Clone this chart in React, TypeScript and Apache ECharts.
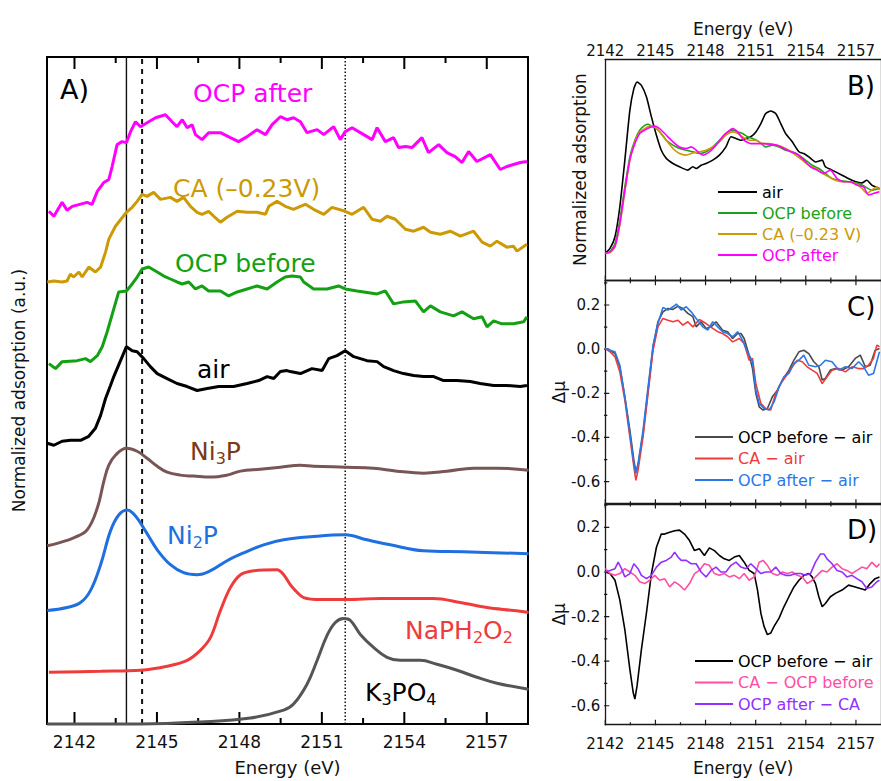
import React, { useEffect, useRef } from 'react';
import * as echarts from 'echarts';

const FONT = "'DejaVu Sans', sans-serif";

// ---- axis tick values ----
const majorE = [2142, 2145, 2148, 2151, 2154, 2157];
const minorE = [2143.5, 2146.5, 2149.5, 2152.5, 2155.5];
const dmuMajor = [-0.6, -0.4, -0.2, 0, 0.2];
const dmuMinor = [-0.5, -0.3, -0.1, 0.1, 0.3];

// ---- Panel A (offset spectra, a.u.) ----
const ocpAfterA = [[2141.07,5.15],[2141.25,5.10],[2141.55,5.24],[2141.73,5.16],[2141.92,5.20],[2142.46,5.24],[2142.64,5.22],[2142.83,5.35],[2143.07,5.44],[2143.25,5.47],[2143.37,5.60],[2143.55,5.82],[2143.73,5.85],[2143.89,5.84],[2144.04,5.95],[2144.22,6.05],[2144.40,6.00],[2144.64,6.04],[2144.95,6.09],[2145.31,6.12],[2145.55,6.05],[2145.73,6.00],[2145.92,6.07],[2146.10,5.99],[2146.28,6.02],[2146.40,5.92],[2146.64,5.87],[2146.88,5.94],[2147.31,5.94],[2147.67,5.89],[2147.97,5.85],[2148.28,5.90],[2148.64,5.97],[2148.95,5.92],[2149.19,6.02],[2149.49,6.10],[2149.73,6.07],[2149.97,6.09],[2150.22,6.05],[2150.46,5.94],[2150.83,5.97],[2151.07,5.92],[2151.43,6.00],[2151.67,5.87],[2151.85,5.95],[2152.10,5.99],[2152.52,5.92],[2152.83,5.87],[2153.01,5.99],[2153.31,5.85],[2153.61,5.89],[2153.79,5.79],[2154.04,5.80],[2154.28,5.79],[2154.64,5.89],[2154.88,5.74],[2155.25,5.82],[2155.55,5.74],[2155.85,5.70],[2156.10,5.64],[2156.34,5.75],[2156.64,5.65],[2157.13,5.72],[2157.49,5.57],[2157.73,5.60],[2158.22,5.64],[2158.46,5.65]];
const caA = [[2141.01,4.44],[2141.25,4.45],[2141.55,4.44],[2141.73,4.45],[2141.85,4.52],[2141.97,4.49],[2142.16,4.54],[2142.28,4.49],[2142.52,4.59],[2142.76,4.54],[2142.95,4.59],[2143.13,4.74],[2143.25,4.87],[2143.49,5.00],[2143.89,5.14],[2144.10,5.19],[2144.28,5.25],[2144.46,5.32],[2144.64,5.30],[2144.88,5.34],[2145.13,5.27],[2145.49,5.29],[2145.73,5.25],[2145.97,5.29],[2146.22,5.20],[2146.46,5.14],[2146.64,5.12],[2146.88,5.15],[2147.07,5.10],[2147.31,5.04],[2147.55,5.09],[2147.92,5.15],[2148.28,5.14],[2148.64,5.14],[2148.95,5.12],[2149.07,5.20],[2149.37,5.25],[2149.67,5.20],[2149.97,5.17],[2150.22,5.20],[2150.40,5.22],[2150.70,5.17],[2151.07,5.12],[2151.37,5.19],[2151.85,5.15],[2152.10,5.12],[2152.52,5.19],[2152.83,5.07],[2153.13,5.05],[2153.37,5.10],[2153.67,5.07],[2154.04,4.97],[2154.34,4.95],[2154.70,4.99],[2154.95,4.94],[2155.31,4.92],[2155.67,4.95],[2156.04,4.90],[2156.52,4.95],[2156.83,4.84],[2157.13,4.80],[2157.37,4.85],[2157.73,4.79],[2157.97,4.80],[2158.10,4.75],[2158.46,4.82]];
const ocpBeforeA = [[2141.07,3.62],[2141.31,3.57],[2141.55,3.64],[2142.10,3.65],[2142.40,3.67],[2142.58,3.64],[2142.83,3.70],[2143.01,3.79],[2143.19,3.94],[2143.43,4.17],[2143.61,4.34],[2143.89,4.35],[2144.10,4.42],[2144.28,4.49],[2144.46,4.57],[2144.70,4.59],[2145.01,4.54],[2145.25,4.50],[2145.49,4.47],[2145.73,4.44],[2145.92,4.42],[2146.16,4.44],[2146.40,4.37],[2146.64,4.40],[2146.88,4.35],[2147.31,4.35],[2147.61,4.30],[2147.92,4.34],[2148.28,4.37],[2148.64,4.40],[2149.01,4.37],[2149.37,4.44],[2149.67,4.49],[2149.92,4.50],[2150.22,4.49],[2150.34,4.44],[2150.70,4.37],[2151.19,4.37],[2151.61,4.40],[2151.85,4.37],[2152.28,4.35],[2153.01,4.32],[2153.31,4.35],[2153.61,4.22],[2153.97,4.24],[2154.40,4.25],[2154.70,4.14],[2154.95,4.20],[2155.31,4.14],[2155.79,4.10],[2156.10,4.14],[2156.52,4.07],[2156.83,4.09],[2157.01,3.99],[2157.25,4.05],[2157.55,4.02],[2157.97,4.02],[2158.34,4.04],[2158.46,4.09]];
const airA = [[2141.01,2.82],[2141.25,2.80],[2141.55,2.84],[2141.85,2.85],[2142.22,2.85],[2142.52,2.89],[2142.76,2.97],[2142.95,3.10],[2143.13,3.27],[2143.31,3.40],[2143.43,3.49],[2143.89,3.79],[2144.10,3.75],[2144.28,3.74],[2144.52,3.67],[2144.76,3.59],[2145.01,3.52],[2145.37,3.47],[2145.73,3.42],[2146.10,3.39],[2146.46,3.35],[2146.83,3.37],[2147.25,3.39],[2147.79,3.39],[2148.28,3.42],[2148.70,3.45],[2149.01,3.49],[2149.25,3.47],[2149.49,3.54],[2149.73,3.55],[2149.85,3.54],[2150.22,3.52],[2150.64,3.57],[2151.01,3.55],[2151.25,3.67],[2151.55,3.70],[2151.85,3.75],[2152.16,3.69],[2152.64,3.65],[2153.01,3.64],[2153.25,3.59],[2153.61,3.55],[2153.97,3.52],[2154.34,3.50],[2154.70,3.49],[2155.07,3.49],[2155.43,3.45],[2155.92,3.45],[2156.40,3.44],[2156.76,3.42],[2157.25,3.40],[2157.73,3.40],[2158.22,3.39],[2158.46,3.40]];
const ni3pA = [[2141.01,1.79],[2141.43,1.82],[2141.97,1.87],[2142.46,1.95],[2142.83,2.17],[2143.07,2.44],[2143.25,2.60],[2143.49,2.70],[2143.89,2.77],[2144.28,2.74],[2144.64,2.67],[2145.01,2.59],[2145.37,2.53],[2145.85,2.50],[2146.34,2.49],[2146.95,2.48],[2147.55,2.50],[2148.04,2.54],[2148.76,2.56],[2149.49,2.58],[2150.22,2.60],[2150.70,2.59],[2151.85,2.58],[2152.88,2.57],[2153.73,2.54],[2154.70,2.52],[2155.55,2.54],[2156.52,2.57],[2157.37,2.57],[2158.52,2.55]];
const ni2pA = [[2141.01,1.14],[2141.73,1.17],[2142.22,1.22],[2142.58,1.34],[2142.95,1.60],[2143.31,1.94],[2143.61,2.10],[2143.92,2.15],[2144.22,2.09],[2144.58,1.94],[2145.01,1.75],[2145.49,1.60],[2145.97,1.52],[2146.46,1.50],[2146.95,1.54],[2147.55,1.64],[2148.16,1.72],[2148.88,1.80],[2149.61,1.85],[2150.58,1.88],[2151.85,1.90],[2152.64,1.85],[2153.49,1.80],[2154.70,1.74],[2156.16,1.73],[2158.52,1.71]];
const naph2o2A = [[2141.07,0.52],[2142.95,0.53],[2144.40,0.54],[2145.37,0.58],[2146.10,0.64],[2146.58,0.74],[2146.95,0.87],[2147.31,1.14],[2147.67,1.37],[2148.04,1.50],[2148.52,1.54],[2149.37,1.55],[2149.61,1.50],[2149.85,1.40],[2150.04,1.34],[2150.34,1.27],[2150.95,1.25],[2151.92,1.25],[2153.13,1.26],[2155.07,1.26],[2156.04,1.22],[2157.01,1.17],[2157.97,1.14],[2158.52,1.12]];
const k3po4A = [[2141.01,0.00],[2144.40,0.00],[2146.58,0.02],[2148.40,0.06],[2149.61,0.14],[2149.97,0.20],[2150.46,0.40],[2150.83,0.64],[2151.19,0.89],[2151.49,1.02],[2151.79,1.06],[2152.04,1.04],[2152.40,0.90],[2152.88,0.77],[2153.37,0.67],[2153.85,0.64],[2154.58,0.64],[2155.19,0.60],[2155.92,0.54],[2156.64,0.47],[2157.37,0.41],[2158.52,0.35]];
const refSolidE = 2143.89;
const refDashedE = 2144.46;
const refDottedE = 2151.85;

// ---- Panel B (normalized adsorption) ----
const airB = [[2142.00,0.121],[2142.28,0.143],[2142.58,0.196],[2142.87,0.332],[2143.17,0.543],[2143.47,0.769],[2143.71,0.867],[2143.90,0.897],[2144.16,0.882],[2144.46,0.830],[2144.76,0.739],[2145.06,0.656],[2145.35,0.588],[2145.65,0.551],[2146.05,0.528],[2146.44,0.513],[2146.94,0.498],[2147.24,0.513],[2147.44,0.505],[2147.73,0.520],[2148.03,0.528],[2148.43,0.543],[2148.83,0.566],[2149.22,0.603],[2149.52,0.649],[2149.82,0.641],[2150.12,0.633],[2150.41,0.641],[2150.71,0.649],[2151.01,0.671],[2151.31,0.709],[2151.60,0.754],[2151.90,0.766],[2152.20,0.754],[2152.50,0.709],[2152.79,0.664],[2153.19,0.626],[2153.59,0.581],[2153.88,0.573],[2154.18,0.558],[2154.58,0.535],[2154.98,0.543],[2155.17,0.513],[2155.57,0.498],[2156.17,0.475],[2156.76,0.452],[2157.36,0.440],[2157.65,0.452],[2157.95,0.430],[2158.41,0.415]];
const ocpBeforeB = [[2142.00,0.121],[2142.28,0.128],[2142.58,0.166],[2142.87,0.271],[2143.17,0.422],[2143.47,0.558],[2143.77,0.633],[2144.06,0.679],[2144.36,0.701],[2144.56,0.706],[2144.76,0.697],[2145.06,0.686],[2145.35,0.664],[2145.65,0.633],[2146.05,0.611],[2146.44,0.596],[2146.84,0.588],[2147.24,0.581],[2147.63,0.573],[2148.03,0.581],[2148.43,0.603],[2148.83,0.633],[2149.22,0.664],[2149.62,0.679],[2149.92,0.671],[2150.21,0.664],[2150.51,0.649],[2150.81,0.641],[2151.21,0.626],[2151.60,0.603],[2152.00,0.611],[2152.40,0.603],[2152.79,0.588],[2153.19,0.581],[2153.59,0.566],[2153.98,0.543],[2154.38,0.520],[2154.78,0.505],[2155.17,0.483],[2155.57,0.460],[2155.97,0.452],[2156.56,0.445],[2157.16,0.437],[2157.56,0.422],[2157.95,0.407],[2158.41,0.415]];
const caB = [[2142.00,0.121],[2142.28,0.124],[2142.58,0.151],[2142.87,0.249],[2143.17,0.400],[2143.47,0.543],[2143.77,0.626],[2144.06,0.671],[2144.36,0.686],[2144.66,0.697],[2144.96,0.694],[2145.25,0.671],[2145.65,0.633],[2146.05,0.596],[2146.44,0.573],[2146.84,0.566],[2147.24,0.576],[2147.63,0.581],[2148.03,0.588],[2148.43,0.603],[2148.83,0.626],[2149.22,0.656],[2149.62,0.671],[2149.92,0.664],[2150.21,0.649],[2150.61,0.633],[2151.01,0.633],[2151.40,0.618],[2151.80,0.618],[2152.20,0.611],[2152.60,0.603],[2152.99,0.588],[2153.39,0.566],[2153.79,0.543],[2154.18,0.520],[2154.58,0.505],[2154.98,0.483],[2155.37,0.468],[2155.77,0.452],[2156.17,0.445],[2156.56,0.445],[2156.96,0.437],[2157.36,0.415],[2157.65,0.392],[2157.95,0.407],[2158.25,0.422],[2158.41,0.407]];
const ocpAfterB = [[2142.00,0.121],[2142.28,0.127],[2142.58,0.154],[2142.87,0.256],[2143.17,0.407],[2143.47,0.546],[2143.77,0.618],[2144.06,0.664],[2144.36,0.679],[2144.66,0.691],[2144.96,0.697],[2145.25,0.686],[2145.65,0.656],[2146.05,0.626],[2146.44,0.603],[2146.84,0.596],[2147.14,0.603],[2147.44,0.588],[2147.83,0.566],[2148.23,0.581],[2148.63,0.611],[2149.02,0.649],[2149.32,0.671],[2149.62,0.686],[2149.92,0.671],[2150.31,0.633],[2150.71,0.618],[2151.11,0.618],[2151.50,0.618],[2151.90,0.615],[2152.30,0.611],[2152.69,0.596],[2153.09,0.581],[2153.49,0.570],[2153.88,0.543],[2154.28,0.513],[2154.68,0.498],[2155.08,0.483],[2155.47,0.498],[2155.87,0.460],[2156.27,0.445],[2156.66,0.445],[2157.06,0.430],[2157.46,0.422],[2157.75,0.385],[2158.05,0.392],[2158.41,0.400]];

// ---- Panel C (difference spectra vs air) ----
const cOcpBefore = [[2142.00,0.003],[2142.28,-0.005],[2142.58,-0.020],[2142.87,-0.080],[2143.17,-0.216],[2143.47,-0.367],[2143.71,-0.503],[2143.83,-0.556],[2143.96,-0.526],[2144.26,-0.382],[2144.56,-0.186],[2144.86,0.011],[2145.15,0.124],[2145.45,0.169],[2145.75,0.184],[2146.05,0.180],[2146.35,0.195],[2146.64,0.184],[2146.94,0.162],[2147.24,0.147],[2147.44,0.101],[2147.73,0.124],[2148.03,0.094],[2148.33,0.101],[2148.63,0.124],[2149.02,0.086],[2149.32,0.079],[2149.62,0.048],[2149.92,0.071],[2150.12,0.071],[2150.31,0.048],[2150.61,-0.027],[2150.81,-0.088],[2151.01,-0.201],[2151.21,-0.261],[2151.44,-0.276],[2151.70,-0.269],[2152.00,-0.216],[2152.30,-0.186],[2152.60,-0.140],[2152.99,-0.095],[2153.29,-0.050],[2153.59,-0.012],[2153.88,-0.005],[2154.18,-0.020],[2154.48,-0.057],[2154.78,-0.080],[2154.98,-0.140],[2155.17,-0.133],[2155.47,-0.095],[2155.77,-0.088],[2156.17,-0.095],[2156.56,-0.080],[2156.96,-0.042],[2157.26,-0.027],[2157.56,-0.080],[2157.85,-0.073],[2158.15,-0.005],[2158.41,0.003]];
const cCa = [[2142.00,0.003],[2142.28,-0.012],[2142.58,-0.035],[2142.87,-0.103],[2143.17,-0.231],[2143.47,-0.397],[2143.71,-0.533],[2143.83,-0.594],[2143.96,-0.548],[2144.26,-0.397],[2144.56,-0.201],[2144.86,-0.005],[2145.15,0.101],[2145.45,0.139],[2145.75,0.131],[2146.05,0.124],[2146.35,0.131],[2146.64,0.109],[2146.94,0.124],[2147.24,0.101],[2147.63,0.134],[2148.03,0.116],[2148.43,0.094],[2148.73,0.079],[2149.02,0.071],[2149.32,0.056],[2149.62,0.033],[2150.02,0.048],[2150.31,0.026],[2150.61,-0.050],[2150.81,-0.042],[2151.01,-0.156],[2151.31,-0.246],[2151.60,-0.269],[2151.90,-0.276],[2152.20,-0.201],[2152.50,-0.156],[2152.79,-0.125],[2153.19,-0.080],[2153.49,-0.050],[2153.79,-0.057],[2154.08,-0.080],[2154.38,-0.095],[2154.68,-0.110],[2154.98,-0.156],[2155.27,-0.125],[2155.57,-0.095],[2155.97,-0.088],[2156.37,-0.103],[2156.76,-0.080],[2157.16,-0.088],[2157.46,-0.088],[2157.75,-0.073],[2158.05,-0.042],[2158.25,0.018],[2158.41,0.011]];
const cOcpAfter = [[2142.00,0.003],[2142.28,-0.005],[2142.58,-0.012],[2142.87,-0.073],[2143.17,-0.216],[2143.47,-0.382],[2143.71,-0.518],[2143.83,-0.563],[2143.96,-0.518],[2144.26,-0.367],[2144.56,-0.171],[2144.86,0.018],[2145.15,0.116],[2145.45,0.189],[2145.75,0.177],[2146.05,0.192],[2146.25,0.204],[2146.54,0.177],[2146.84,0.192],[2147.14,0.169],[2147.44,0.139],[2147.83,0.101],[2148.13,0.086],[2148.43,0.124],[2148.73,0.101],[2149.02,0.079],[2149.32,0.071],[2149.62,0.056],[2149.92,0.079],[2150.21,0.041],[2150.51,-0.012],[2150.81,-0.057],[2151.01,-0.186],[2151.21,-0.246],[2151.50,-0.269],[2151.80,-0.276],[2152.10,-0.239],[2152.40,-0.171],[2152.69,-0.125],[2152.99,-0.110],[2153.29,-0.065],[2153.59,-0.050],[2153.88,-0.027],[2154.18,-0.073],[2154.58,-0.080],[2154.88,-0.073],[2155.17,-0.050],[2155.57,-0.057],[2155.97,-0.095],[2156.37,-0.080],[2156.76,-0.088],[2157.16,-0.057],[2157.46,-0.080],[2157.75,-0.118],[2158.05,-0.110],[2158.41,-0.012]];

// ---- Panel D (successive differences) ----
const dOcpBefore = [[2142.00,0.000],[2142.28,-0.007],[2142.58,-0.037],[2142.87,-0.126],[2143.17,-0.259],[2143.47,-0.437],[2143.67,-0.541],[2143.77,-0.570],[2143.90,-0.511],[2144.16,-0.348],[2144.46,-0.185],[2144.76,-0.007],[2145.06,0.111],[2145.35,0.170],[2145.55,0.170],[2145.85,0.178],[2146.15,0.185],[2146.44,0.188],[2146.74,0.170],[2147.04,0.141],[2147.34,0.096],[2147.63,0.104],[2147.93,0.074],[2148.23,0.108],[2148.53,0.096],[2148.83,0.074],[2149.12,0.059],[2149.42,0.052],[2149.72,0.067],[2150.02,0.074],[2150.31,0.044],[2150.61,0.007],[2150.91,-0.007],[2151.11,-0.081],[2151.31,-0.185],[2151.50,-0.244],[2151.70,-0.281],[2151.90,-0.274],[2152.10,-0.244],[2152.40,-0.207],[2152.69,-0.156],[2152.99,-0.111],[2153.29,-0.067],[2153.59,-0.037],[2153.88,-0.015],[2154.18,-0.007],[2154.38,-0.022],[2154.58,-0.052],[2154.78,-0.111],[2154.98,-0.156],[2155.17,-0.141],[2155.47,-0.111],[2155.77,-0.096],[2156.17,-0.081],[2156.56,-0.059],[2156.96,-0.067],[2157.26,-0.074],[2157.56,-0.081],[2157.85,-0.052],[2158.15,-0.030],[2158.41,-0.022]];
const dCa = [[2142.00,0.015],[2142.28,-0.007],[2142.58,-0.015],[2142.87,-0.007],[2143.17,0.015],[2143.47,0.000],[2143.77,-0.015],[2144.06,-0.044],[2144.36,-0.052],[2144.66,-0.037],[2144.96,-0.015],[2145.25,-0.037],[2145.55,-0.030],[2145.85,-0.067],[2146.15,-0.044],[2146.44,-0.059],[2146.74,-0.081],[2147.04,-0.052],[2147.34,-0.007],[2147.63,0.007],[2147.93,0.037],[2148.23,0.030],[2148.53,-0.007],[2148.83,-0.015],[2149.12,-0.007],[2149.42,-0.022],[2149.72,-0.015],[2150.02,-0.030],[2150.31,-0.007],[2150.61,-0.037],[2150.91,-0.022],[2151.21,0.044],[2151.44,0.052],[2151.70,0.030],[2152.00,-0.007],[2152.30,-0.015],[2152.60,0.000],[2152.89,-0.007],[2153.19,0.000],[2153.49,-0.015],[2153.79,-0.022],[2154.08,-0.052],[2154.38,-0.037],[2154.68,-0.015],[2154.98,0.007],[2155.27,0.000],[2155.57,0.022],[2155.87,0.037],[2156.17,0.015],[2156.46,0.007],[2156.76,-0.007],[2157.06,0.007],[2157.36,0.022],[2157.65,0.015],[2157.95,0.044],[2158.25,0.022],[2158.41,0.037]];
const dOcpAfter = [[2142.00,0.000],[2142.28,0.007],[2142.58,0.015],[2142.77,0.044],[2142.97,0.015],[2143.17,-0.022],[2143.47,-0.007],[2143.71,0.037],[2143.96,0.015],[2144.16,-0.015],[2144.46,-0.030],[2144.76,-0.015],[2145.06,0.022],[2145.35,0.044],[2145.65,0.052],[2145.95,0.067],[2146.15,0.089],[2146.35,0.067],[2146.54,0.052],[2146.84,0.052],[2147.14,0.037],[2147.44,0.037],[2147.73,0.000],[2148.03,-0.022],[2148.33,0.007],[2148.63,0.022],[2148.92,0.000],[2149.22,0.000],[2149.52,0.030],[2149.82,0.044],[2150.12,0.022],[2150.41,0.015],[2150.71,0.037],[2151.01,0.015],[2151.31,-0.007],[2151.60,0.000],[2151.90,0.000],[2152.20,0.022],[2152.50,-0.007],[2152.79,-0.015],[2153.09,-0.015],[2153.39,-0.007],[2153.69,-0.007],[2153.98,-0.015],[2154.28,-0.007],[2154.58,0.044],[2154.88,0.081],[2155.08,0.081],[2155.27,0.059],[2155.57,0.037],[2155.87,0.007],[2156.17,0.000],[2156.46,-0.022],[2156.76,-0.015],[2157.06,-0.030],[2157.36,-0.044],[2157.65,-0.074],[2157.95,-0.067],[2158.25,-0.044],[2158.41,-0.037]];

// ---- layout ----
const A_MIN = 2141, A_MAX = 2158.5;
const R_MIN = 2142, R_MAX = 2158.5;
const A_YMAX = 6.7;
const C_MIN = -0.7, C_MAX = 0.31;
const D_MIN = -0.685, D_MAX = 0.305;
const GRID_A = { left: 47, top: 57, width: 481, height: 670 };
const GRID_B = { left: 605.3, top: 59.3, width: 277.2, height: 220.7 };
const GRID_C = { left: 605.3, top: 280.7, width: 277.2, height: 223 };
const GRID_D = { left: 605.3, top: 504, width: 277.2, height: 220.7 };
const pxA = GRID_A.height / A_YMAX;
const pxB = GRID_B.height / 1;
const pxC = GRID_C.height / (C_MAX - C_MIN);
const pxD = GRID_D.height / (D_MAX - D_MIN);
const pxE = GRID_B.width / (R_MAX - R_MIN);

// ---- helpers ----
const AXC = '#1a1a1a';
function axLine(color: string, width: number) {
  return { show: true, onZero: false, lineStyle: { color, width } };
}
function ax(gridIndex: number, min: number, max: number, extra: any) {
  return Object.assign({
    type: 'value', gridIndex, min, max,
    splitLine: { show: false },
    axisLine: { show: false, onZero: false },
    axisTick: { show: false },
    axisLabel: { show: false },
  }, extra);
}
function ln(name: string, data: any[], color: string, width: number, xi: number, yi: number, extra: any = {}) {
  return Object.assign({
    type: 'line', name, data, xAxisIndex: xi, yAxisIndex: yi,
    showSymbol: false, symbol: 'none', color,
    lineStyle: { color, width }, itemStyle: { color },
    animation: false, silent: true,
  }, extra);
}
// tick marks as line segments that start far outside the grid and are clipped at its edge
let tickCount = 0;
function vTicks(values: number[], yOut: number, yIn: number, color: string, width: number, xi: number, yi: number) {
  return values.map((v) => ln('tick ' + (tickCount++), [[v, yOut], [v, yIn]], color, width, xi, yi));
}
function hTicks(values: number[], xOut: number, xIn: number, color: string, width: number, xi: number, yi: number) {
  return values.map((v) => ln('tick ' + (tickCount++), [[xOut, v], [xIn, v]], color, width, xi, yi));
}
function txt(x: number, y: number, text: string, color: string, size: number) {
  return {
    type: 'text', x, y, silent: true,
    style: { text, fill: color, fontSize: size, fontFamily: FONT, textAlign: 'left', textVerticalAlign: 'middle', align: 'left', verticalAlign: 'middle' },
  };
}
function subTxt(x: number, y: number, text: string, color: string, size: number, sub: number) {
  return {
    type: 'text', x, y, silent: true,
    style: {
      text, fill: color, fontSize: size, fontFamily: FONT,
      textAlign: 'left', textVerticalAlign: 'middle', align: 'left', verticalAlign: 'middle',
      rich: {
        m: { fontSize: size, fontFamily: FONT, fill: color, lineHeight: Math.round(size * 1.2) },
        s: { fontSize: sub, fontFamily: FONT, fill: color, lineHeight: 14, verticalAlign: 'bottom' },
      },
    },
  };
}

export default function App() {
  const ref = useRef<HTMLDivElement>(null);
  useEffect(() => {
    if (!ref.current) return;
    const chart = echarts.init(ref.current, undefined, { renderer: 'svg' });
    const thin = 1.3;
    const fmt1 = (v: number) => v.toFixed(1);
    const fmtE = (v: number) => String(v);
    const labels: any[] = [
      txt(60, 89, 'A)', '#000', 27),
      txt(847, 86, 'B)', '#000', 26),
      txt(847, 307, 'C)', '#000', 26),
      txt(847, 530, 'D)', '#000', 26),
      txt(193, 93, 'OCP after', '#ff00ff', 25),
      txt(173, 188, 'CA (–0.23V)', '#cc9a06', 25),
      txt(175, 263, 'OCP before', '#14a014', 25),
      txt(197, 369, 'air', '#000', 25),
      subTxt(190, 451, '{m|Ni}{s|3}{m|P}', '#7b3a16', 25, 16),
      subTxt(167, 535, '{m|Ni}{s|2}{m|P}', '#1f6fe0', 25, 16),
      subTxt(405, 630, '{m|NaPH}{s|2}{m|O}{s|2}', '#ee3b3b', 25, 16),
      subTxt(365, 692, '{m|K}{s|3}{m|PO}{s|4}', '#000', 25, 16),
    ];
    tickCount = 0;
    const ticks: any[] = [
      ...vTicks(majorE, -3, 12 / pxA, '#000', 2, 0, 0),
      ...vTicks(minorE, -3, 6 / pxA, '#000', 2, 0, 0),
      ...vTicks(majorE, A_YMAX + 3, A_YMAX - 12 / pxA, '#000', 2, 0, 0),
      ...vTicks(minorE, A_YMAX + 3, A_YMAX - 6 / pxA, '#000', 2, 0, 0),
      ...vTicks(majorE, -1, 4.5 / pxB, AXC, 1.2, 2, 2),
      ...vTicks(minorE, -1, 2.5 / pxB, AXC, 1.2, 2, 2),
      ...vTicks(majorE, C_MAX + 1, C_MAX - 4.5 / pxC, AXC, 1.2, 4, 4),
      ...vTicks(minorE, C_MAX + 1, C_MAX - 2.5 / pxC, AXC, 1.2, 4, 4),
      ...vTicks(majorE, C_MIN - 1, C_MIN + 4.5 / pxC, AXC, 1.2, 4, 4),
      ...vTicks(minorE, C_MIN - 1, C_MIN + 2.5 / pxC, AXC, 1.2, 4, 4),
      ...vTicks(majorE, D_MAX + 1, D_MAX - 4.5 / pxD, AXC, 1.2, 6, 6),
      ...vTicks(minorE, D_MAX + 1, D_MAX - 2.5 / pxD, AXC, 1.2, 6, 6),
      ...vTicks(majorE, D_MIN - 1, D_MIN + 5 / pxD, AXC, 1.2, 6, 6),
      ...vTicks(minorE, D_MIN - 1, D_MIN + 2.5 / pxD, AXC, 1.2, 6, 6),
      ...hTicks(dmuMajor, R_MIN - 5, R_MIN + 4 / pxE, AXC, 1.2, 4, 4),
      ...hTicks(dmuMinor, R_MIN - 5, R_MIN + 2 / pxE, AXC, 1.2, 4, 4),
      ...hTicks(dmuMajor, R_MIN - 5, R_MIN + 4 / pxE, AXC, 1.2, 6, 6),
      ...hTicks(dmuMinor, R_MIN - 5, R_MIN + 2 / pxE, AXC, 1.2, 6, 6),
    ];
    const option: any = {
      animation: false,
      backgroundColor: '#ffffff',
      textStyle: { fontFamily: FONT },
      grid: [GRID_A, GRID_B, GRID_C, GRID_D],
      xAxis: [
        ax(0, A_MIN, A_MAX, {
          position: 'bottom', axisLine: axLine('#000', 2),
          axisLabel: { show: true, customValues: majorE, formatter: fmtE, fontSize: 17, color: '#111', margin: 9, fontFamily: FONT },
          name: 'Energy (eV)', nameLocation: 'middle', nameGap: 34,
          nameTextStyle: { fontSize: 18, color: '#111', fontFamily: FONT },
        }),
        ax(0, A_MIN, A_MAX, { position: 'top', axisLine: axLine('#000', 2) }),
        ax(1, R_MIN, R_MAX, {
          position: 'top', axisLine: axLine(AXC, thin),
          axisLabel: { show: true, customValues: majorE, formatter: fmtE, fontSize: 15, color: '#111', margin: 1, fontFamily: FONT },
          name: 'Energy (eV)', nameLocation: 'middle', nameGap: 22,
          nameTextStyle: { fontSize: 17, color: '#111', fontFamily: FONT },
        }),
        ax(1, R_MIN, R_MAX, { position: 'bottom', axisLine: axLine(AXC, thin) }),
        ax(2, R_MIN, R_MAX, { position: 'top', axisLine: axLine(AXC, thin) }),
        ax(2, R_MIN, R_MAX, { position: 'bottom', axisLine: axLine(AXC, thin) }),
        ax(3, R_MIN, R_MAX, { position: 'top', axisLine: axLine(AXC, thin) }),
        ax(3, R_MIN, R_MAX, {
          position: 'bottom', axisLine: axLine(AXC, thin),
          axisLabel: { show: true, customValues: majorE, formatter: fmtE, fontSize: 15, color: '#111', margin: 12, fontFamily: FONT },
          name: 'Energy (eV)', nameLocation: 'middle', nameGap: 35,
          nameTextStyle: { fontSize: 17, color: '#111', fontFamily: FONT },
        }),
      ],
      yAxis: [
        ax(0, 0, A_YMAX, {
          position: 'left', axisLine: axLine('#000', 2),
          name: 'Normalized adsorption (a.u.)', nameLocation: 'middle', nameGap: 20,
          nameTextStyle: { fontSize: 17, color: '#111', fontFamily: FONT },
        }),
        ax(0, 0, A_YMAX, { position: 'right', axisLine: axLine('#000', 2) }),
        ax(1, 0, 1, {
          position: 'left', axisLine: axLine(AXC, thin),
          name: 'Normalized adsorption', nameLocation: 'middle', nameGap: 17,
          nameTextStyle: { fontSize: 17, color: '#111', fontFamily: FONT },
        }),
        ax(1, 0, 1, { position: 'right', axisLine: axLine(AXC, thin) }),
        ax(2, C_MIN, C_MAX, {
          position: 'left', axisLine: axLine(AXC, thin),
          axisLabel: { show: true, customValues: dmuMajor, formatter: fmt1, fontSize: 15, color: '#111', margin: 5, fontFamily: FONT },
          name: 'Δμ', nameLocation: 'middle', nameGap: 32,
          nameTextStyle: { fontSize: 17, color: '#111', fontFamily: FONT },
        }),
        ax(2, C_MIN, C_MAX, { position: 'right', axisLine: axLine(AXC, thin) }),
        ax(3, D_MIN, D_MAX, {
          position: 'left', axisLine: axLine(AXC, thin),
          axisLabel: { show: true, customValues: dmuMajor, formatter: fmt1, fontSize: 15, color: '#111', margin: 5, fontFamily: FONT },
          name: 'Δμ', nameLocation: 'middle', nameGap: 32,
          nameTextStyle: { fontSize: 17, color: '#111', fontFamily: FONT },
        }),
        ax(3, D_MIN, D_MAX, { position: 'right', axisLine: axLine(AXC, thin) }),
      ],
      legend: [
        {
          orient: 'vertical', left: 718, top: 184, padding: 0, itemWidth: 39, itemHeight: 2, itemGap: 5,
          icon: 'rect', selectedMode: false,
          textStyle: { fontSize: 16, lineHeight: 16, fontFamily: FONT },
          data: [
            { name: 'air', textStyle: { color: '#000' }, itemStyle: { color: '#000' } },
            { name: 'OCP before', textStyle: { color: '#1aa31a' }, itemStyle: { color: '#1aa31a' } },
            { name: 'CA (–0.23 V)', textStyle: { color: '#cc9a06' }, itemStyle: { color: '#cc9a06' } },
            { name: 'OCP after', textStyle: { color: '#ff00ff' }, itemStyle: { color: '#ff00ff' } },
          ],
        },
        {
          orient: 'vertical', left: 695, top: 429, padding: 0, itemWidth: 38, itemHeight: 2, itemGap: 5.5,
          icon: 'rect', selectedMode: false,
          textStyle: { fontSize: 16, lineHeight: 16, fontFamily: FONT },
          data: [
            { name: 'OCP before − air', textStyle: { color: '#000' }, itemStyle: { color: '#4a4a4a' } },
            { name: 'CA − air', textStyle: { color: '#ef3b3b' }, itemStyle: { color: '#ef3b3b' } },
            { name: 'OCP after − air', textStyle: { color: '#2a78e6' }, itemStyle: { color: '#2a78e6' } },
          ],
        },
        {
          orient: 'vertical', left: 695, top: 653, padding: 0, itemWidth: 38, itemHeight: 2, itemGap: 5.5,
          icon: 'rect', selectedMode: false,
          textStyle: { fontSize: 16, lineHeight: 16, fontFamily: FONT },
          data: [
            { name: 'OCP before − air', textStyle: { color: '#000' }, itemStyle: { color: '#000' } },
            { name: 'CA − OCP before', textStyle: { color: '#ff4fa3' }, itemStyle: { color: '#ff4fa3' } },
            { name: 'OCP after − CA', textStyle: { color: '#9330ff' }, itemStyle: { color: '#9330ff' } },
          ],
        },
      ],
      series: [
        ln('E ref solid', [[refSolidE, 0], [refSolidE, A_YMAX]], '#111', 1.4, 0, 0),
        ln('E ref dashed', [[refDashedE, 0], [refDashedE, A_YMAX]], '#111', 2, 0, 0, { lineStyle: { color: '#111', width: 2, type: [5, 5] } }),
        ln('E ref dotted', [[refDottedE, 0], [refDottedE, A_YMAX]], '#111', 1.5, 0, 0, { lineStyle: { color: '#111', width: 1.5, type: [1.5, 2] } }),
        ...ticks,
        ln('A OCP after', ocpAfterA, '#ff00ff', 3, 0, 0),
        ln('A CA', caA, '#cc9a06', 3, 0, 0),
        ln('A OCP before', ocpBeforeA, '#14a014', 3, 0, 0),
        ln('A air', airA, '#000000', 3, 0, 0),
        ln('A Ni3P', ni3pA, '#7a5555', 3, 0, 0, { smooth: 0.4 }),
        ln('A Ni2P', ni2pA, '#1f6fe0', 3, 0, 0, { smooth: 0.4 }),
        ln('A NaPH2O2', naph2o2A, '#ee3b3b', 3, 0, 0, { smooth: 0.35 }),
        ln('A K3PO4', k3po4A, '#555555', 3, 0, 0, { smooth: 0.4, clip: false }),
        ln('air', airB, '#000000', 1.6, 2, 2, { smooth: 0.2 }),
        ln('OCP before', ocpBeforeB, '#1aa31a', 1.6, 2, 2, { smooth: 0.2 }),
        ln('CA (–0.23 V)', caB, '#cc9a06', 1.6, 2, 2, { smooth: 0.2 }),
        ln('OCP after', ocpAfterB, '#ff00ff', 1.6, 2, 2, { smooth: 0.2 }),
        ln('OCP before − air', cOcpBefore, '#4a4a4a', 1.6, 4, 4),
        ln('CA − air', cCa, '#ef3b3b', 1.6, 4, 4),
        ln('OCP after − air', cOcpAfter, '#2a78e6', 1.6, 4, 4),
        ln('OCP before − air', dOcpBefore, '#000000', 1.6, 6, 6),
        ln('CA − OCP before', dCa, '#ff4fa3', 1.6, 6, 6),
        ln('OCP after − CA', dOcpAfter, '#9330ff', 1.6, 6, 6),
      ],
      graphic: labels,
    };
    chart.setOption(option);
    return () => chart.dispose();
  }, []);
  return (
    <div
      ref={ref}
      style={{ position: 'absolute', left: 0, top: 0, width: 881, height: 781, background: '#fff' }}
    />
  );
}
